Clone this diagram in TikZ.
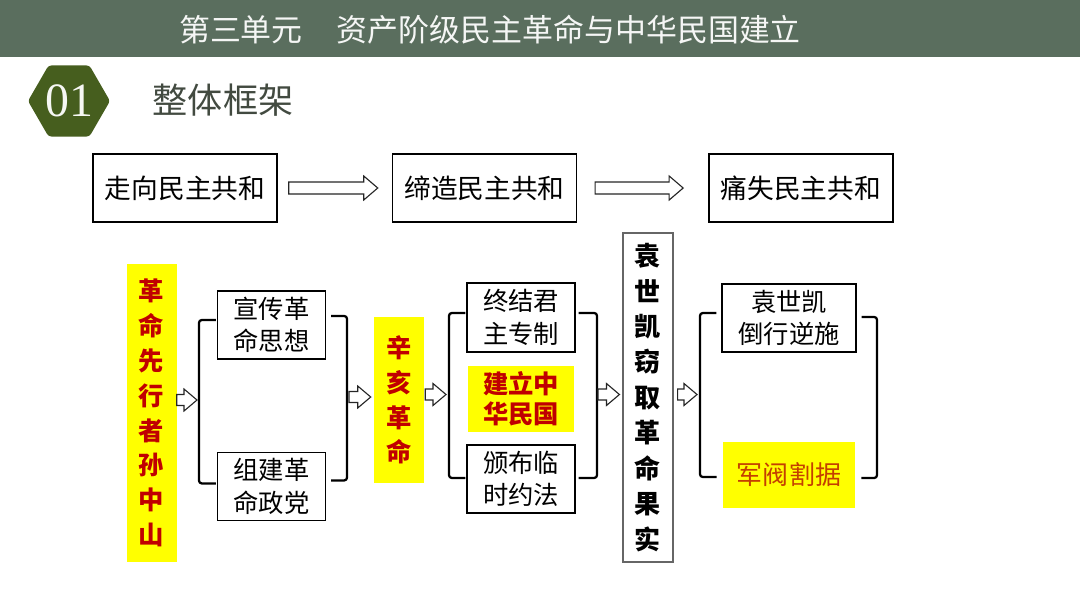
\documentclass[tikz,border=0pt]{standalone}
\usepackage{fontspec}
\setmainfont{Noto Sans CJK SC}
\newfontfamily\numfont{Liberation Serif}
\usetikzlibrary{positioning,calc,shapes.geometric}
\definecolor{headbar}{RGB}{90,110,94}
\definecolor{hexgreen}{RGB}{70,94,30}
\definecolor{titleink}{RGB}{66,74,64}
\definecolor{hlyellow}{RGB}{255,255,0}
\definecolor{hlred}{RGB}{192,0,0}
\definecolor{warlord}{RGB}{196,64,0}
\newlength\pxu \setlength\pxu{0.025cm}
% hollow block arrow: from, gap, to, gap, half shaft, half head
\newcommand{\blockarrow}[6]{%
  \draw[blockarr] ($#1+(#2,-#5)$) -- ($#3+(-#4-#6-2,-#5)$) -- ($#3+(-#4-#6-2,-#6)$)
    -- ($#3+(-#4,0)$) -- ($#3+(-#4-#6-2,#6)$) -- ($#3+(-#4-#6-2,#5)$) -- ($#1+(#2,#5)$) -- cycle;}
\tikzset{
  box/.style={draw=black, line width=1pt, fill=white, align=center, inner sep=0pt,
              minimum width=108*\pxu, minimum height=68*\pxu, text=black,
              font=\fontsize{18}{23}\selectfont},
  topbox/.style={box, minimum width=184*\pxu, font=\fontsize{19}{19}\selectfont},
  hilite/.style={fill=hlyellow, align=center, inner sep=0pt, text=hlred,
              font=\fontsize{18}{21}\selectfont\bfseries},
  vbar/.style={align=center, inner sep=0pt, minimum width=50*\pxu},
  brk/.style={line width=1.6pt, rounded corners=2pt},
  blockarr/.style={draw=black!85, line width=0.8pt, fill=white},
}
\begin{document}
\begin{tikzpicture}[x=0.025cm, y=-0.025cm]
  \useasboundingbox (0,0) rectangle (1080,607);
  % title bar
  \fill[headbar] (0,0) rectangle (1080,57);
  \node[text=white!94!headbar, font=\fontsize{22}{22}\selectfont] (unit) at (490,30)
    {第三单元\hspace{1.1em}资产阶级民主革命与中华民国建立};
  \node[regular polygon, regular polygon sides=6, minimum size=82*\pxu, inner sep=0pt,
        rounded corners=2pt, fill=hexgreen, text=white!95!hexgreen,
        font=\numfont\fontsize{34}{34}\selectfont] (num) at (69,101) {01};
  \node[text=titleink, font=\fontsize{25}{25}\selectfont] (frame) at (223,100) {整体框架};

  % top row
  \node[topbox] (top1) at (185,188) {走向民主共和};
  \node[topbox, right=2.85cm of top1] (top2) {缔造民主共和};
  \node[topbox, right=3.275cm of top2] (top3) {痛失民主共和};
  \blockarrow{(top1.east)}{11}{(top2.west)}{14}{6}{12}
  \blockarrow{(top2.east)}{18}{(top3.west)}{25}{6}{12}

  % Sun Yat-sen
  \node[vbar, hilite, minimum height=298*\pxu, font=\fontsize{18}{24.8}\selectfont\bfseries] (sun)
    at (151.5,413) {革\\命\\先\\行\\者\\孙\\中\\山};
  \node[box] (xc) at (271.5,325) {宣传革\\命思想};
  \node[box, below=2.3cm of xc] (zj) {组建革\\命政党};
  \coordinate (g1l) at (199,400);
  \coordinate (g1r) at (347,397);
  \draw[brk] ([shift={(-1,-5)}]xc.west) -| (g1l) |- ([shift={(-1,-3)}]zj.west);
  \draw[brk] ([shift={(5,-9)}]xc.east) -| (g1r) |- ([shift={(5,-6)}]zj.east);

  % 1911 revolution
  \node[vbar, hilite, minimum height=166*\pxu, font=\fontsize{18}{24.7}\selectfont\bfseries] (xh)
    at (399,400) {辛\\亥\\革\\命};
  \node[box, minimum height=69*\pxu] (zjjz) at (521,317.5) {终结君\\主专制};
  \node[hilite, minimum width=106*\pxu, minimum height=66*\pxu, below=0.325cm of zjjz] (jl)
    {建立中\\华民国};
  \node[box, below=0.3cm of jl] (bb) {颁布临\\时约法};
  \coordinate (g2l) at (449,394.5);
  \coordinate (g2r) at (597,394.5);
  \draw[brk] ([shift={(-1,-4.5)}]zjjz.west) -| (g2l) |- ([shift={(-1,-1)}]bb.west);
  \draw[brk] ([shift={(3,-4.5)}]zjjz.east) -| (g2r) |- ([shift={(3,-1)}]bb.east);

  % Yuan Shikai
  \node[vbar, draw=black!60, line width=0.8pt, minimum height=329*\pxu,
        font=\fontsize{18.5}{25.2}\selectfont\bfseries] (yuan)
    at (648,397.5) {袁\\世\\凯\\窃\\取\\革\\命\\果\\实};
  \node[box, minimum width=134*\pxu] (dx) at (789,318) {袁世凯\\倒行逆施};
  \node[hilite, minimum width=132*\pxu, minimum height=66*\pxu, text=warlord,
        font=\fontsize{18.5}{21}\selectfont, below=2.225cm of dx] (jf) {军阀割据};
  \coordinate (g3l) at (700,394.5);
  \coordinate (g3r) at (877,397);
  \draw[brk] ([shift={(-5,-5)}]dx.west) -| (g3l) |- ([shift={(-6,2)}]jf.west);
  \draw[brk] ([shift={(5,-1)}]dx.east) -| (g3r) |- ([shift={(6,3)}]jf.east);

  % small arrows
  \blockarrow{(sun.east |- g1l)}{0}{(g1l)}{2}{5.5}{11}
  \blockarrow{(g1r)}{2}{(xh.west |- g1r)}{3}{5.5}{11}
  \blockarrow{(xh.east |- g2l)}{1}{(g2l)}{3}{5.5}{11}
  \blockarrow{(g2r)}{1}{(yuan.west |- g2r)}{3}{5.5}{11}
  \blockarrow{(yuan.east |- g3l)}{4}{(g3l)}{3}{5.5}{11}
\end{tikzpicture}
\end{document}
